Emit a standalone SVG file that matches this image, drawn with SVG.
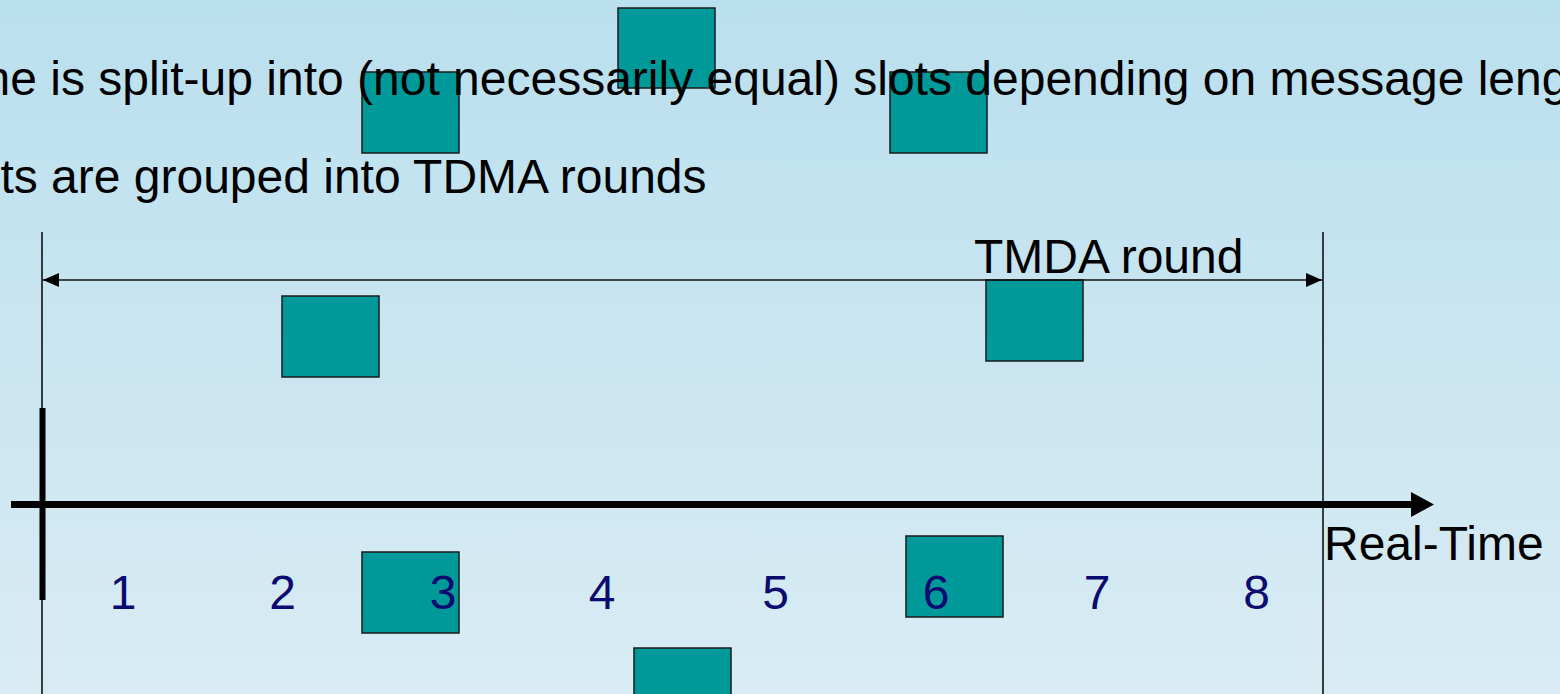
<svg xmlns="http://www.w3.org/2000/svg" width="1560" height="694" viewBox="0 0 1560 694">
  <defs>
    <linearGradient id="bg" x1="0" y1="0" x2="0" y2="1">
      <stop offset="0" stop-color="#badfee"/>
      <stop offset="1" stop-color="#d9ecf4"/>
    </linearGradient>
    <marker id="head" markerUnits="userSpaceOnUse" viewBox="0 0 16 14" refX="16" refY="7" markerWidth="16" markerHeight="14" orient="auto-start-reverse">
      <path d="M0,0 L16,7 L0,14 Z" fill="#000"/>
    </marker>
  </defs>
  <style>
    .slot { fill: #009999; stroke: #1a1a1a; stroke-width: 1.5; }
    .txt { font-family: "Liberation Sans", Arial, sans-serif; font-size: 48px; fill: #000; }
    .num { font-family: "Liberation Sans", Arial, sans-serif; font-size: 48px; fill: #0a0a70; text-anchor: middle; }
    .thin { stroke: #111; stroke-width: 1.6; fill: none; }
  </style>

  <rect x="0" y="0" width="1560" height="694" fill="url(#bg)"/>

  <!-- message slots -->
  <g id="slot-a"><rect class="slot" x="362" y="72" width="97" height="81"/></g>
  <g id="slot-b"><rect class="slot" x="618" y="8" width="97" height="80"/></g>
  <g id="slot-c"><rect class="slot" x="890" y="72" width="97" height="81"/></g>
  <g id="slot-d"><rect class="slot" x="282" y="296" width="97" height="81"/></g>
  <g id="slot-e"><rect class="slot" x="986" y="280" width="97" height="81"/></g>
  <g id="slot-f"><rect class="slot" x="362" y="552" width="97" height="81"/></g>
  <g id="slot-g"><rect class="slot" x="906" y="536" width="97" height="81"/></g>
  <g id="slot-h"><rect class="slot" x="634" y="648" width="97" height="81"/></g>

  <!-- round boundaries, round span and time axis -->
  <g id="connectors">
    <line class="thin" x1="42" y1="232" x2="42" y2="694"/>
    <line class="thin" x1="1323" y1="232" x2="1323" y2="694"/>
    <line class="thin" x1="43" y1="280" x2="1322" y2="280" marker-start="url(#head)" marker-end="url(#head)"/>
    <line x1="42.5" y1="408" x2="42.5" y2="600" stroke="#000" stroke-width="6"/>
    <line x1="11" y1="504.5" x2="1412" y2="504.5" stroke="#000" stroke-width="7"/>
    <path d="M1411,492 L1434,504.5 L1411,517 Z" fill="#000"/>
  </g>

  <!-- bullet text -->
  <g id="bullets">
    <text class="txt" x="-68" y="95">Time is split-up into (not necessarily equal) slots depending on message length</text>
    <text class="txt" x="-69" y="193">Slots are grouped into TDMA rounds</text>
  </g>

  <g id="round-label"><text class="txt" x="974" y="273">TMDA round</text></g>
  <g id="axis-label"><text class="txt" x="1324" y="560">Real-Time</text></g>

  <!-- slot numbers -->
  <g id="slot-numbers">
    <text class="num" x="123" y="609">1</text>
    <text class="num" x="282.5" y="609">2</text>
    <text class="num" x="443" y="609">3</text>
    <text class="num" x="602" y="609">4</text>
    <text class="num" x="775.5" y="609">5</text>
    <text class="num" x="936" y="609">6</text>
    <text class="num" x="1097" y="609">7</text>
    <text class="num" x="1256.5" y="609">8</text>
  </g>
</svg>
